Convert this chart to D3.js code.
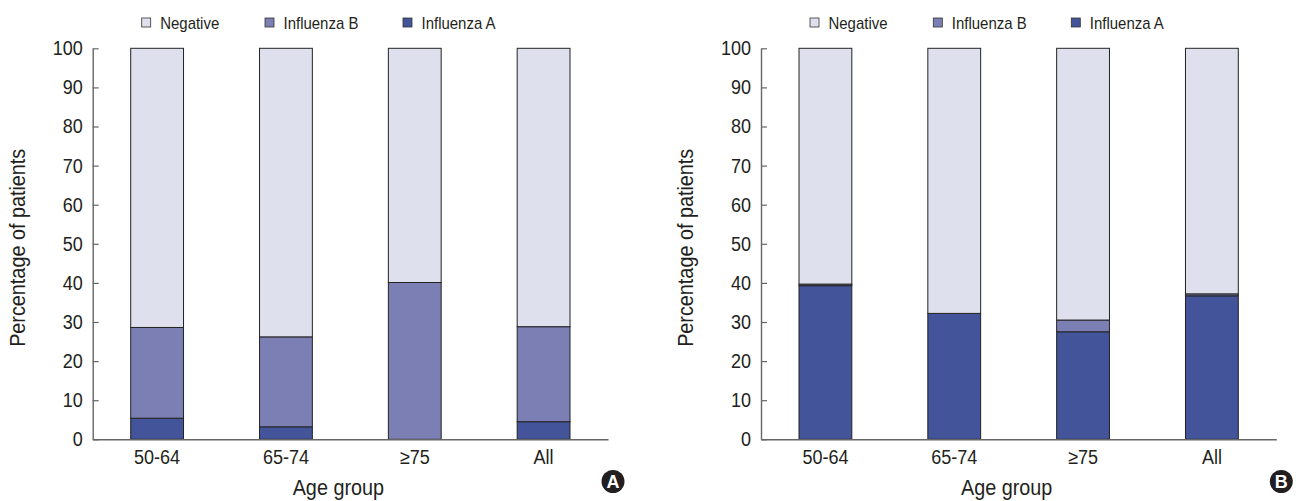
<!DOCTYPE html>
<html>
<head>
<meta charset="utf-8">
<script src="https://cdn.jsdelivr.net/npm/d3@7"></script>
<style>
  html, body { margin: 0; padding: 0; background: #fff; }
  svg { display: block; font-family: "Liberation Sans", Arial, sans-serif; }
</style>
</head>
<body>
<svg id="chart" width="1296" height="501"></svg>
<script>
// ---- data ----
const categories = ["50-64", "65-74", "\u226575", "All"];
const seriesNames = ["Negative", "Influenza B", "Influenza A"];
const yTicks = [0, 10, 20, 30, 40, 50, 60, 70, 80, 90, 100];

// Panel A
const panelA_influenzaA = [5.4, 3.2, 0, 4.5];
const panelA_influenzaB = [23.2, 23.0, 40.1, 24.3];
const panelA_negative   = [71.4, 73.8, 59.9, 71.2];

// Panel B
const panelB_influenzaA = [39.3, 32.2, 27.5, 36.7];
const panelB_influenzaB = [0.4, 0, 3.0, 0.5];
const panelB_negative   = [60.3, 67.8, 69.5, 62.8];

const colors = { "Influenza A": "#43549a", "Influenza B": "#7c7fb4", "Negative": "#dfe0ee" };
const textColor = "#231f20";

const svg = d3.select("#chart");

// horizontally condense text to mimic a condensed typeface
function condense(sel, f) {
  sel.each(function () {
    const w = this.getComputedTextLength();
    d3.select(this).attr("textLength", (w * f).toFixed(2)).attr("lengthAdjust", "spacingAndGlyphs");
  });
}

function drawPanel(offsetX, label, fluA, fluB, neg) {
  const x0 = 92.7 + offsetX, x1 = 608 + offsetX;
  const yTop = 48.3, yBot = 439.3;
  const g = svg.append("g");

  const x = d3.scaleBand().domain(categories).range([x0, x1])
    .paddingInner(0.59).paddingOuter(0.295);
  const y = d3.scaleLinear().domain([0, 100]).range([yBot, yTop]);

  const rows = categories.map((c, i) => ({
    cat: c, "Influenza A": fluA[i], "Influenza B": fluB[i], "Negative": neg[i]
  }));
  const stack = d3.stack().keys(["Influenza A", "Influenza B", "Negative"]);
  const layers = stack(rows);

  g.selectAll("g.layer").data(layers).join("g")
    .attr("class", "layer")
    .attr("fill", d => colors[d.key])
    .selectAll("rect").data(d => d.filter(p => p[1] - p[0] > 0)).join("rect")
    .attr("x", d => x(d.data.cat))
    .attr("width", x.bandwidth())
    .attr("y", d => y(d[1]))
    .attr("height", d => y(d[0]) - y(d[1]))
    .attr("stroke", "#232323")
    .attr("stroke-width", 1);

  // y axis
  const ya = g.append("g").attr("transform", `translate(${x0},0)`)
    .call(d3.axisLeft(y).tickValues(yTicks).tickSize(-6).tickSizeOuter(0).tickPadding(10));
  ya.select(".domain").attr("stroke", "#666").attr("stroke-width", 1.4);
  ya.selectAll(".tick line").attr("stroke", "#666").attr("stroke-width", 1.2);
  ya.selectAll(".tick text").attr("font-size", 20).attr("fill", textColor)
    .attr("font-family", "Liberation Sans, Arial, sans-serif").call(condense, 0.9);

  // x axis
  const xa = g.append("g").attr("transform", `translate(0,${yBot})`)
    .call(d3.axisBottom(x).tickSize(0).tickSizeOuter(0).tickPadding(11));
  xa.select(".domain").attr("stroke", "#666").attr("stroke-width", 1.6);
  xa.selectAll(".tick text").attr("font-size", 20).attr("fill", textColor)
    .attr("font-family", "Liberation Sans, Arial, sans-serif").call(condense, 0.9);

  // axis titles
  g.append("text")
    .attr("transform", `translate(${offsetX + 25},${(yTop + yBot) / 2 + 4}) rotate(-90)`)
    .attr("text-anchor", "middle").attr("font-size", 22).attr("fill", textColor)
    .text("Percentage of patients").call(condense, 0.9);
  g.append("text")
    .attr("x", (x0 + x1) / 2 - 12).attr("y", 495)
    .attr("text-anchor", "middle").attr("font-size", 22).attr("fill", textColor)
    .text("Age group").call(condense, 0.9);

  // legend
  const legendX = [141.7, 265, 403];
  const lg = g.selectAll("g.leg").data(seriesNames).join("g")
    .attr("class", "leg")
    .attr("transform", (d, i) => `translate(${legendX[i] + offsetX},18)`);
  lg.append("rect").attr("width", 9).attr("height", 9)
    .attr("fill", d => colors[d]).attr("stroke", "#333").attr("stroke-width", 0.8);
  lg.append("text").attr("x", 18.5).attr("y", 10.5)
    .attr("font-size", 17).attr("fill", textColor).text(d => d).call(condense, 0.88);

  // panel label
  const cx = 613 + offsetX, cy = 481.5;
  g.append("circle").attr("cx", cx).attr("cy", cy).attr("r", 11.5).attr("fill", textColor);
  g.append("text").attr("x", cx).attr("y", cy + 6.5).attr("text-anchor", "middle")
    .attr("font-size", 18).attr("font-weight", "bold").attr("fill", "#fff").text(label);
}

drawPanel(0, "A", panelA_influenzaA, panelA_influenzaB, panelA_negative);
drawPanel(668.3, "B", panelB_influenzaA, panelB_influenzaB, panelB_negative);
</script>
</body>
</html>
